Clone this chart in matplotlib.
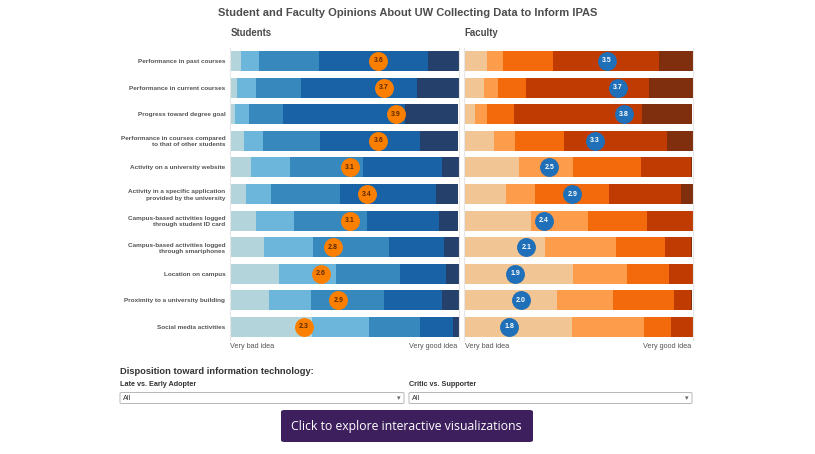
import matplotlib
matplotlib.use("Agg")
import matplotlib.pyplot as plt
from matplotlib.patches import FancyBboxPatch
import numpy as np

# ---------------- data ----------------
items = [
    "Performance in past courses",
    "Performance in current courses",
    "Progress toward degree goal",
    "Performance in courses compared\nto that of other students",
    "Activity on a university website",
    "Activity in a specific application\nprovided by the university",
    "Campus-based activities logged\nthrough student ID card",
    "Campus-based activities logged\nthrough smartphones",
    "Location on campus",
    "Proximity to a university building",
    "Social media activities",
]

# percentage of respondents per rating (1 = very bad idea ... 5 = very good idea)
students_1 = [5.1, 3.3, 2.6, 6.4, 9.6, 7.3, 11.6, 15.1, 21.8, 17.3, 36.0]
students_2 = [8.0, 8.2, 5.7, 8.3, 16.7, 10.9, 16.7, 21.4, 24.9, 18.5, 25.0]
students_3 = [26.1, 19.9, 14.9, 24.9, 32.0, 30.1, 31.7, 33.0, 27.9, 31.7, 22.4]
students_4 = [47.3, 50.4, 53.6, 43.7, 34.7, 41.9, 31.5, 24.0, 19.9, 25.2, 14.3]
students_5 = [13.5, 18.2, 23.2, 16.7, 7.0, 9.8, 8.5, 6.5, 5.5, 7.3, 2.3]
students_mean = [3.6, 3.7, 3.9, 3.6, 3.1, 3.4, 3.1, 2.8, 2.6, 2.9, 2.3]

faculty_1 = [10.1, 9.1, 5.0, 13.2, 24.3, 18.7, 29.4, 35.5, 48.0, 40.8, 47.5]
faculty_2 = [7.0, 6.0, 5.1, 9.2, 23.7, 12.7, 25.1, 31.1, 23.5, 24.6, 31.4]
faculty_3 = [22.2, 12.3, 12.1, 21.5, 29.5, 32.3, 25.6, 21.2, 18.4, 26.6, 11.8]
faculty_4 = [45.9, 53.8, 55.9, 45.0, 21.8, 31.3, 19.9, 11.5, 10.1, 7.3, 9.3]
faculty_5 = [14.8, 18.8, 21.9, 11.1, 0.7, 5.0, 0.0, 0.7, 0.0, 0.7, 0.0]
faculty_mean = [3.5, 3.7, 3.8, 3.3, 2.5, 2.9, 2.4, 2.1, 1.9, 2.0, 1.8]

scale_min, scale_max = 1, 5
axis_left_label = "Very bad idea"
axis_right_label = "Very good idea"

# ---------------- styles ----------------
student_colors = ["#b4d4dc", "#6db6db", "#3788bd", "#1862a5", "#25416b"]
faculty_colors = ["#f1c594", "#fd9c4b", "#f26a0b", "#c03b02", "#7f2f0e"]
student_dot = "#fd7f00"
faculty_dot = "#1f70b8"
text_gray = "#555555"
FONT = ["Liberation Sans", "DejaVu Sans"]

W, H = 815, 454
fig = plt.figure(figsize=(W / 100, H / 100), dpi=100)
fig.patch.set_facecolor("white")


def fx(px):
    return px / W


def fy(py):
    return 1 - py / H


top_px, bot_px = 47.7, 340.3


def make_panel(x0, x1, levels, colors, means, dot_color, dot_text_color, title, show_labels):
    ax = fig.add_axes([fx(x0), fy(bot_px), fx(x1 - x0), (bot_px - top_px) / H])
    data = np.array(levels, dtype=float)  # shape (5, n)
    data = data / data.sum(axis=0, keepdims=True)
    n = data.shape[1]
    y = np.arange(n)
    left = np.zeros(n)
    for k in range(data.shape[0]):
        ax.barh(y, data[k], left=left, height=0.75, color=colors[k],
                edgecolor="none", zorder=2)
        left += data[k]
    pos = (np.array(means) - scale_min) / (scale_max - scale_min)
    ax.scatter(pos, y, s=185, color=dot_color, zorder=4, linewidths=0)
    for xi, yi, m in zip(pos, y, means):
        ax.text(xi, yi, f"{m:.1f}", ha="center", va="center", fontsize=5.0,
                fontweight="bold", color=dot_text_color, zorder=5, family=FONT)
    ax.set_xlim(0, 1)
    ax.set_ylim(n - 0.5, -0.5)
    ax.set_xticks([])
    ax.set_yticks([])
    for s in ["top", "bottom"]:
        ax.spines[s].set_visible(False)
    for s in ["left", "right"]:
        ax.spines[s].set_color("#e6e6e6")
        ax.spines[s].set_linewidth(0.8)
    if show_labels:
        ax.set_yticks(y)
        ax.set_yticklabels(items, fontsize=4.6, fontweight="bold", color=text_gray,
                           family=FONT, linespacing=1.3)
        ax.tick_params(axis="y", length=0, pad=3)
    fig.text(fx(x0 + 1), fy(33), title, fontsize=6.9, fontweight="bold",
             color="#4a4a4a", ha="left", va="center", family=FONT)
    fig.text(fx(x0 + 1), fy(346), axis_left_label, fontsize=5.2, color=text_gray,
             ha="left", va="center", family=FONT)
    fig.text(fx(x1 - 1), fy(346), axis_right_label, fontsize=5.2, color=text_gray,
             ha="right", va="center", family=FONT)
    return ax


make_panel(229.5, 458.5,
           [students_1, students_2, students_3, students_4, students_5],
           student_colors, students_mean, student_dot, "#5a2a00", "Students", True)
make_panel(463.5, 692.5,
           [faculty_1, faculty_2, faculty_3, faculty_4, faculty_5],
           faculty_colors, faculty_mean, faculty_dot, "white", "Faculty", False)

fig.text(fx(408), fy(12.5), "Student and Faculty Opinions About UW Collecting Data to Inform IPAS",
         fontsize=8.0, fontweight="bold", color="#4d4d4d", ha="center", va="center",
         family=FONT)

# ---------------- filter controls ----------------
fig.text(fx(120), fy(371), "Disposition toward information technology:", fontsize=6.7,
         fontweight="bold", color="#333333", ha="left", va="center", family=FONT)

for x0, x1, label in [(120, 404, "Late vs. Early Adopter"), (409, 692, "Critic vs. Supporter")]:
    fig.text(fx(x0), fy(384), label, fontsize=5.2, fontweight="bold", color="#333333",
             ha="left", va="center", family=FONT)
    box = FancyBboxPatch((fx(x0), fy(403.5)), fx(x1 - x0), (403.5 - 392.5) / H,
                         boxstyle="round,pad=0,rounding_size=0.002",
                         transform=fig.transFigure, facecolor="white",
                         edgecolor="#b8b8b8", linewidth=0.7)
    fig.patches.append(box)
    fig.text(fx(x0 + 3), fy(398), "All", fontsize=5.2, color="#333333",
             ha="left", va="center", family=FONT)
    fig.text(fx(x1 - 5), fy(398), "\u25be", fontsize=5, color="#666666",
             ha="center", va="center", family=["DejaVu Sans"])

btn = FancyBboxPatch((fx(281), fy(442)), fx(533 - 281), (442 - 410) / H,
                     boxstyle="round,pad=0,rounding_size=0.004",
                     transform=fig.transFigure, facecolor="#3d1f5d", edgecolor="none")
fig.patches.append(btn)
fig.text(fx(406.5), fy(426.5), "Click to explore interactive visualizations", fontsize=8.85,
         color="white", ha="center", va="center", family=["Open Sans", "DejaVu Sans"])

fig.savefig("out.png", dpi=100, facecolor="white")
